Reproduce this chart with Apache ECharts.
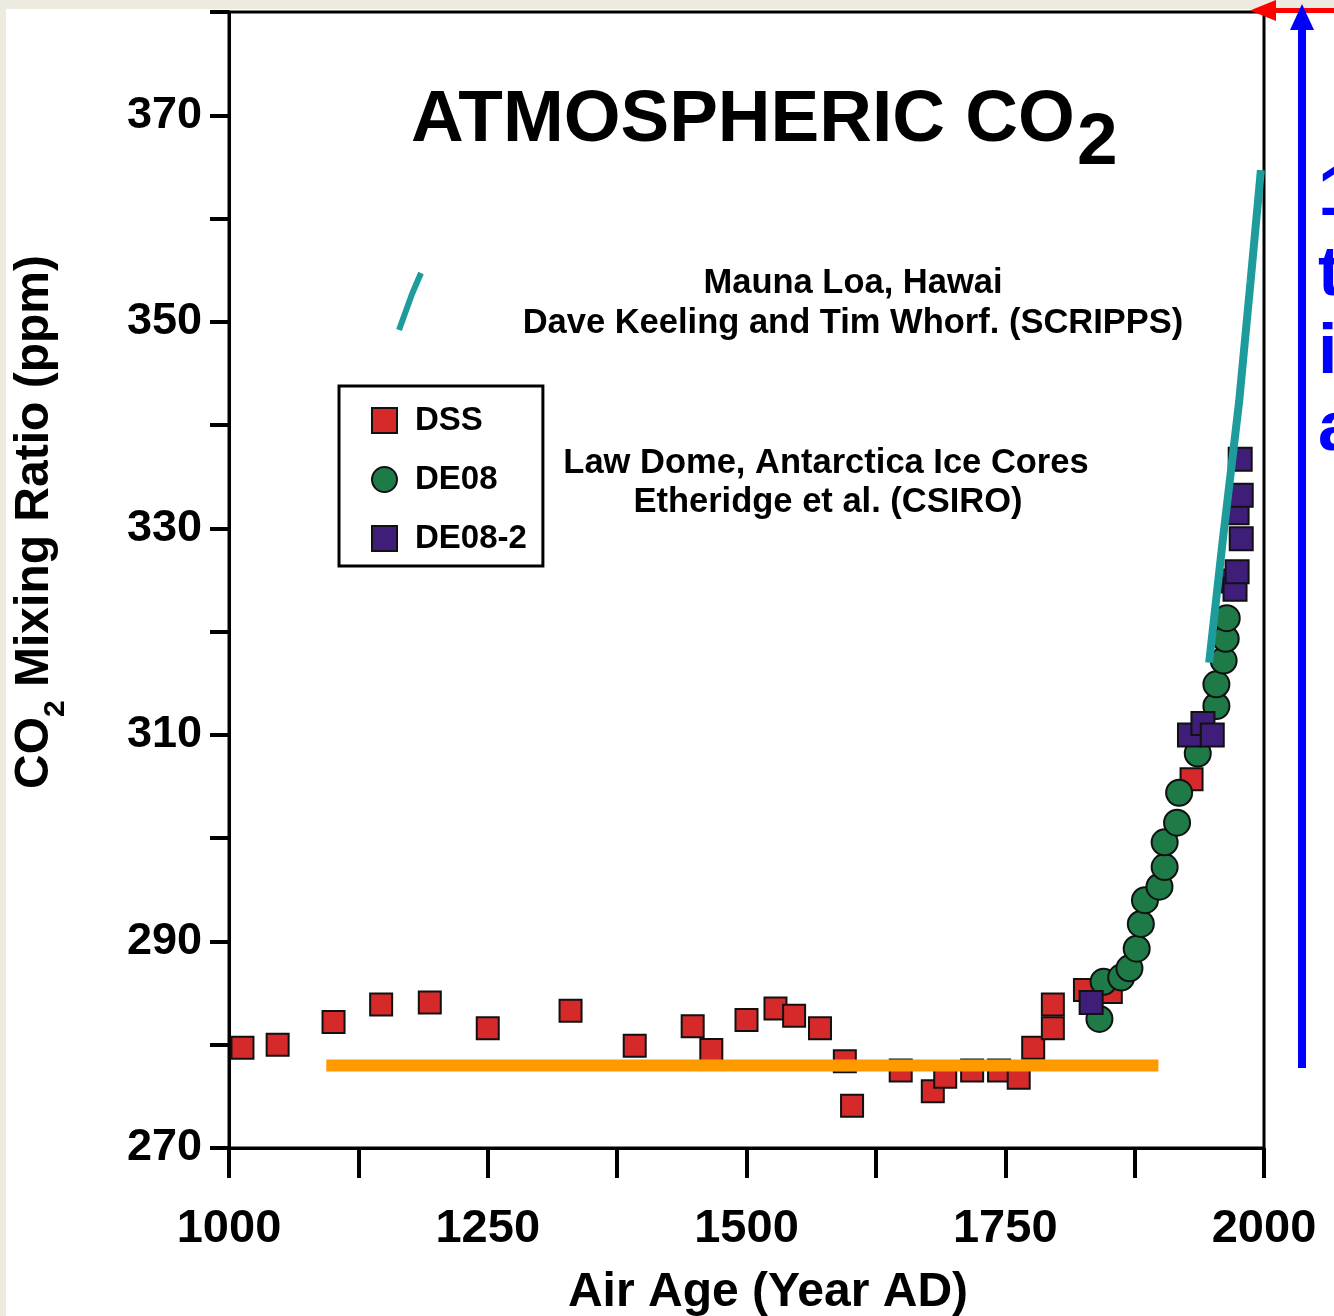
<!DOCTYPE html>
<html>
<head>
<meta charset="utf-8">
<title>Atmospheric CO2</title>
<script src="https://cdn.jsdelivr.net/npm/echarts@6/dist/echarts.min.js"></script>
<style>
  html, body { margin: 0; padding: 0; background: #fff; }
  #chart { width: 1334px; height: 1316px; }
</style>
</head>
<body>
<div id="chart"></div>
<script>
// Law Dome DSS core (red squares)
const dssYears = [1013, 1047, 1101, 1147, 1194, 1250, 1330, 1392, 1448, 1466, 1500, 1528, 1546, 1571,
  1595, 1602, 1649, 1680, 1692, 1718, 1744, 1763, 1777, 1796, 1796, 1827, 1852, 1930];
const dssCo2 = [279.7, 280.0, 282.2, 283.9, 284.1, 281.6, 283.3, 279.9, 281.8, 279.5, 282.4, 283.5, 282.8, 281.6,
  278.4, 274.1, 277.5, 275.5, 276.9, 277.5, 277.5, 276.8, 279.7, 281.6, 283.9, 285.3, 285.1, 305.7];

// DE08 core (green circles)
const de08Years = [1841, 1845, 1862, 1870, 1877, 1881, 1885, 1899, 1904, 1904, 1916, 1918, 1936, 1954, 1954, 1961, 1963, 1964];
const de08Co2 = [282.5, 286.1, 286.5, 287.4, 289.3, 291.7, 294.0, 295.3, 297.2, 299.6, 301.5, 304.4, 308.2, 312.8, 314.9, 317.2, 319.3, 321.3];

// DE08-2 core (purple squares)
const de082Years = [1833, 1928, 1941, 1950, 1970, 1972, 1974, 1978, 1974, 1978, 1977];
const de082Co2 = [284.1, 310.0, 311.1, 310.0, 324.9, 324.1, 325.8, 329.0, 331.5, 333.2, 336.7];

// Mauna Loa record (teal line)
const maunaLoaYears = [1947, 1960, 1976, 1987, 1997];
const maunaLoaCo2 = [317.0, 328.7, 342.3, 353.9, 364.7];

// pre-industrial level (orange bar)
const preindustrialYears = [1094, 1898];
const preindustrialCo2 = 278;

const xTickLabels = [1000, 1250, 1500, 1750, 2000];
const yTickLabels = [270, 290, 310, 330, 350, 370];

const FONT = '"Liberation Sans", Arial, Helvetica, sans-serif';
const zip = (xs, ys) => xs.map((x, i) => [x, ys[i]]);

const chart = echarts.init(document.getElementById('chart'));

function label(text, x, y, size, extra) {
  return Object.assign({
    type: 'text', x: x, y: y,
    style: { text: text, fontSize: size, fontWeight: 'bold', fontFamily: FONT, fill: '#000', align: 'center', verticalAlign: 'middle' }
  }, extra || {});
}

const option = {
  backgroundColor: '#fff',
  animation: false,
  textStyle: { fontFamily: FONT },
  grid: {
    left: 229, top: 12, width: 1035, height: 1136,
    show: true, borderColor: '#000', borderWidth: 3, backgroundColor: '#fff'
  },
  legend: {
    data: ['DSS', 'DE08', 'DE08-2'],
    orient: 'vertical',
    left: 339,
    top: 386,
    itemWidth: 25,
    itemHeight: 25,
    itemGap: 26,
    padding: [18, 16, 11, 32],
    borderColor: '#000',
    borderWidth: 3,
    backgroundColor: '#fff',
    selectedMode: false,
    textStyle: { fontSize: 33, fontWeight: 'bold', color: '#000', fontFamily: FONT, padding: [0, 0, 0, 13] }
  },
  xAxis: {
    type: 'value',
    min: 1000,
    max: 2000,
    interval: 125,
    axisLine: { onZero: false, lineStyle: { color: '#000', width: 3 } },
    axisTick: { length: 30, lineStyle: { color: '#000', width: 4 } },
    splitLine: { show: false },
    axisLabel: {
      margin: 58,
      fontSize: 47,
      fontWeight: 'bold',
      color: '#000',
      fontFamily: FONT,
      formatter: (v) => xTickLabels.includes(v) ? String(v) : ''
    }
  },
  yAxis: {
    type: 'value',
    min: 270,
    max: 380,
    interval: 10,
    axisLine: { show: true, onZero: false, lineStyle: { color: '#000', width: 3 } },
    axisTick: { show: true, length: 19, lineStyle: { color: '#000', width: 4 } },
    splitLine: { show: false },
    axisLabel: {
      margin: 27,
      fontSize: 45,
      fontWeight: 'bold',
      color: '#000',
      fontFamily: FONT,
      formatter: (v) => yTickLabels.includes(v) ? String(v) : ''
    }
  },
  series: [
    {
      name: 'DSS',
      type: 'scatter',
      symbol: 'rect',
      symbolSize: 22,
      z: 2,
      itemStyle: { color: '#d62a2a', borderColor: '#111', borderWidth: 2, opacity: 1 },
      data: zip(dssYears, dssCo2)
    },
    {
      name: 'Pre-industrial',
      type: 'line',
      z: 3,
      showSymbol: false,
      lineStyle: { color: '#ff9900', width: 12, cap: 'butt' },
      data: preindustrialYears.map(y => [y, preindustrialCo2])
    },
    {
      name: 'DE08',
      type: 'scatter',
      symbol: 'circle',
      symbolSize: 26,
      z: 4,
      itemStyle: { color: '#1e7a46', borderColor: '#111', borderWidth: 2, opacity: 1 },
      data: zip(de08Years, de08Co2)
    },
    {
      name: 'DE08-2',
      type: 'scatter',
      symbol: 'rect',
      symbolSize: 23,
      z: 5,
      itemStyle: { color: '#3e1e78', borderColor: '#111', borderWidth: 2, opacity: 1 },
      data: zip(de082Years, de082Co2)
    },
    {
      name: 'Mauna Loa',
      type: 'line',
      z: 6,
      showSymbol: false,
      lineStyle: { color: '#1e9b9b', width: 8, cap: 'butt' },
      data: zip(maunaLoaYears, maunaLoaCo2)
    }
  ],
  graphic: [
    // beige slide margin
    { type: 'rect', shape: { x: 0, y: 0, width: 1334, height: 9 }, style: { fill: '#edeae0' } },
    { type: 'rect', shape: { x: 0, y: 0, width: 6, height: 1316 }, style: { fill: '#edeae0' } },
    // title
    {
      type: 'text', x: 411, y: 121,
      style: { text: 'ATMOSPHERIC CO', fontSize: 73, fontWeight: 'bold', fontFamily: FONT, fill: '#000', align: 'left', verticalAlign: 'middle' }
    },
    {
      type: 'text', x: 1077, y: 144,
      style: { text: '2', fontSize: 73, fontWeight: 'bold', fontFamily: FONT, fill: '#000', align: 'left', verticalAlign: 'middle' }
    },
    // annotations
    label('Mauna Loa, Hawai', 853, 283, 34.5),
    label('Dave Keeling and Tim Whorf. (SCRIPPS)', 853, 323, 34.5),
    label('Law Dome, Antarctica Ice Cores', 826, 463, 34.5),
    label('Etheridge et al. (CSIRO)', 828, 502, 34.5),
    // Mauna Loa key
    {
      type: 'polyline', z: 10,
      shape: { points: [[399, 330], [412, 294], [421, 273]] },
      style: { stroke: '#1e9b9b', lineWidth: 6, fill: null }
    },
    // y axis title
    {
      type: 'text', x: 41, y: 522, rotation: Math.PI / 2,
      style: {
        text: '{a|CO}{b|2}{a| Mixing Ratio (ppm)}',
        align: 'center', verticalAlign: 'middle', fill: '#000',
        rich: {
          a: { fontSize: 48, fontWeight: 'bold', fontFamily: FONT, fill: '#000', lineHeight: 48, verticalAlign: 'top' },
          b: { fontSize: 30, fontWeight: 'bold', fontFamily: FONT, fill: '#000', lineHeight: 60, verticalAlign: 'bottom' }
        }
      }
    },
    // x axis title
    label('Air Age (Year AD)', 768, 1293, 48),
    // slide arrows and cut-off text on the right
    { type: 'line', z: 20, shape: { x1: 1272, y1: 10.5, x2: 1334, y2: 10.5 }, style: { stroke: '#ff0000', lineWidth: 5 } },
    { type: 'polygon', z: 20, shape: { points: [[1250, 10.5], [1276, 0], [1276, 21]] }, style: { fill: '#ff0000' } },
    { type: 'line', z: 21, shape: { x1: 1302, y1: 1068, x2: 1302, y2: 26 }, style: { stroke: '#0000ff', lineWidth: 8 } },
    { type: 'polygon', z: 21, shape: { points: [[1302, 4], [1290, 30], [1314, 30]] }, style: { fill: '#0000ff' } },
    { type: 'text', x: 1318, y: 196, style: { text: '1', fontSize: 70, fontWeight: 'bold', fontFamily: FONT, fill: '#0000ff', align: 'left', verticalAlign: 'middle' } },
    { type: 'text', x: 1318, y: 276, style: { text: 't', fontSize: 70, fontWeight: 'bold', fontFamily: FONT, fill: '#0000ff', align: 'left', verticalAlign: 'middle' } },
    { type: 'text', x: 1318, y: 354, style: { text: 'i', fontSize: 70, fontWeight: 'bold', fontFamily: FONT, fill: '#0000ff', align: 'left', verticalAlign: 'middle' } },
    { type: 'text', x: 1318, y: 431, style: { text: 'a', fontSize: 70, fontWeight: 'bold', fontFamily: FONT, fill: '#0000ff', align: 'left', verticalAlign: 'middle' } }
  ]
};

chart.setOption(option);
</script>
</body>
</html>
